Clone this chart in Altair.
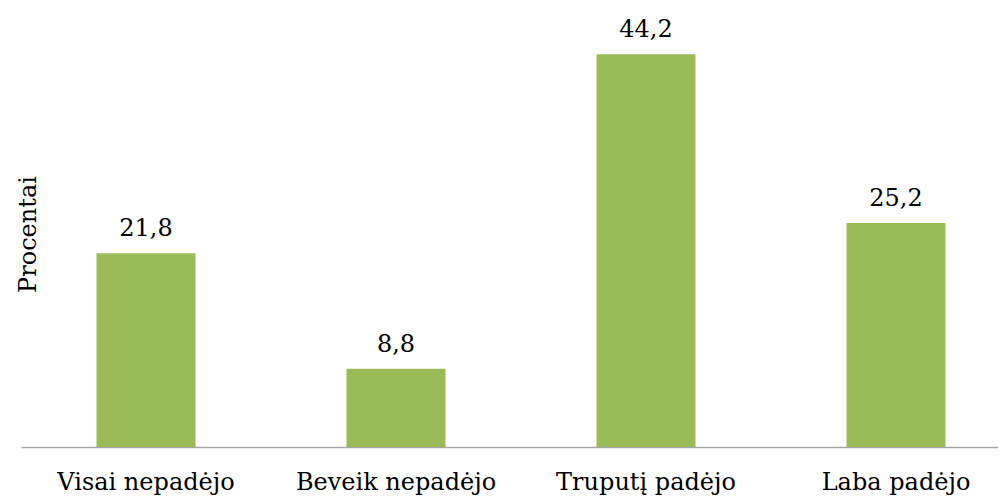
import altair as alt
import pandas as pd

categories = ["Visai nepadėjo", "Beveik nepadėjo", "Truputį padėjo", "Laba padėjo"]
values = [21.8, 8.8, 44.2, 25.2]
labels = ["21,8", "8,8", "44,2", "25,2"]

df = pd.DataFrame({"cat": categories, "val": values, "lab": labels})

FONT = "DejaVu Serif"
FS = 24

x = alt.X(
    "cat:N",
    sort=categories,
    scale=alt.Scale(range=[0, 1000], paddingInner=0.604, paddingOuter=0.302),
    axis=alt.Axis(
        title=None,
        labelAngle=0,
        labelFont=FONT,
        labelFontSize=FS,
        labelColor="black",
        labelPadding=23,
        labelLimit=0,
        ticks=False,
        domainColor="#a6a6a6",
        domainWidth=1.5,
        labelBaseline="top",
    ),
)
y = alt.Y(
    "val:Q",
    scale=alt.Scale(domain=[0, 49.4], nice=False, zero=True),
    axis=alt.Axis(
        title="Procentai",
        labels=False,
        ticks=False,
        domain=False,
        grid=False,
        titleFont=FONT,
        titleFontSize=FS,
        titleFontWeight="normal",
        titleColor="black",
        titleAngle=-90,
        titleX=14,
        titleY=226,
        titleAlign="center",
        titleBaseline="alphabetic",
    ),
)

base = alt.Chart(df)
bars = base.mark_bar(color="#9BBB59").encode(x=x, y=y)
text = base.mark_text(
    font=FONT, fontSize=FS, color="black", dy=-17, baseline="alphabetic"
).encode(x=alt.X("cat:N", sort=categories), y="val:Q", text="lab:N")

chart = (
    alt.layer(bars, text)
    .properties(
        width=977,
        height=439,
        autosize=alt.AutoSizeParams(type="none"),
        padding={"left": 13, "top": 0, "right": 0, "bottom": 48},
        background="white",
    )
    .configure_view(strokeWidth=0, stroke="transparent")
)

chart.save("out.html", embed_options={"renderer": "svg", "actions": False})
